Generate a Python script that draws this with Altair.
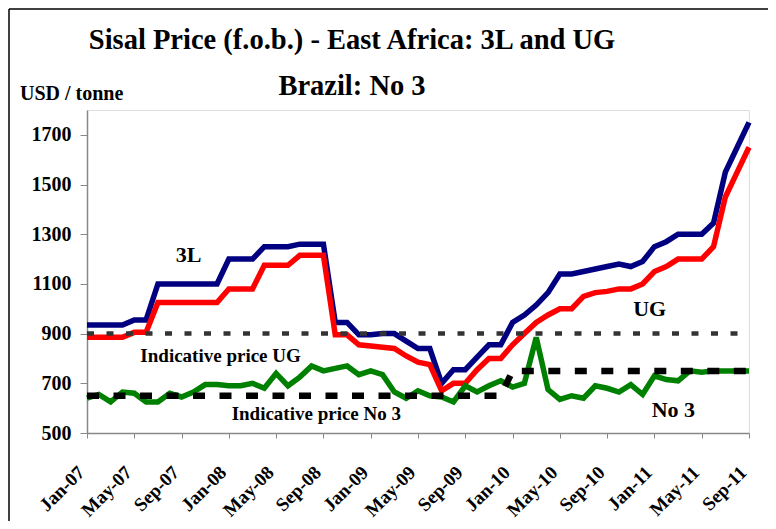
import json
import pandas as pd
import altair as alt

mon = ["Jan", "Feb", "Mar", "Apr", "May", "Jun", "Jul", "Aug", "Sep", "Oct", "Nov", "Dec"]
months = [f"{m}-{y:02d}" for y in range(7, 12) for m in mon][:57]  # Jan-07 .. Sep-11

blue_3l = [935, 935, 935, 935, 955, 955, 1100, 1100, 1100, 1100, 1100, 1100,
           1200, 1200, 1200, 1250, 1250, 1250, 1260, 1260, 1260,
           945, 945, 895, 895, 900, 900, 870, 840, 840, 700, 755, 755, 805, 855, 855,
           945, 975, 1015, 1065, 1140, 1140, 1150, 1160, 1170, 1180, 1170, 1190,
           1250, 1270, 1300, 1300, 1300, 1345, 1550, 1650, 1750]
red_ug = [885, 885, 885, 885, 905, 905, 1025, 1025, 1025, 1025, 1025, 1025,
          1080, 1080, 1080, 1175, 1175, 1175, 1215, 1215, 1215,
          895, 895, 855, 850, 845, 840, 810, 785, 775, 670, 700, 700, 755, 800, 800,
          855, 900, 945, 975, 1000, 1000, 1050, 1065, 1070, 1080, 1080, 1100,
          1150, 1170, 1200, 1200, 1200, 1250, 1450, 1550, 1650]
green_no3 = [640, 655, 625, 665, 660, 625, 625, 660, 645, 665,
             695, 695, 690, 690, 700, 680, 740, 690, 725, 770,
             750, 760, 770, 735, 750, 735, 665, 640, 670, 650,
             645, 625, 690, 665, 690, 710, 685, 700, 885, 675,
             635, 650, 640, 690, 680, 665, 695, 655, 730, 715,
             710, 750, 745, 750, 750, 750, 750]
ind_ug = [900] * 57
ind_no3 = [650] * 36 + [750] * 21

y_ticks = [500, 700, 900, 1100, 1300, 1500, 1700]

# annotation texts placed in data coordinates (month index, USD/tonne)
ann_text = ["3L", "UG", "No 3", "Indicative price UG", "Indicative price No 3"]
ann_x = [8.6, 47.6, 49.6, 11.3, 19.4]
ann_y = [1188, 971, 564, 786, 552]
ann_size = [22, 22, 22, 19, 19]

rows = []
for name, vals in [("3L", blue_3l), ("UG", red_ug), ("No 3", green_no3),
                   ("IndUG", ind_ug), ("IndNo3", ind_no3)]:
    for i, v in enumerate(vals):
        rows.append({"series": name, "idx": i, "month": months[i], "price": v})
df = pd.DataFrame(rows)
ann = pd.DataFrame({"text": ann_text, "x": ann_x, "y": ann_y, "size": ann_size})

FONT = "Liberation Serif"
label_expr = "datum.value % 4 == 0 ? " + json.dumps(months) + "[datum.value] : ''"

xs = alt.X("idx:Q", scale=alt.Scale(domain=[0, 56], nice=False, zero=False),
           axis=alt.Axis(values=list(range(57)), labelExpr=label_expr, labelAngle=315,
                         labelAlign="right", labelBaseline="middle", labelPadding=31,
                         labelOffset=-6, tickSize=5, labelOverlap=False, labelFontSize=19,
                         labelFont=FONT, labelFontWeight="bold", labelColor="black",
                         grid=False, title=None, domainWidth=1.5, labelBound=False))
ys = alt.Y("price:Q", scale=alt.Scale(domain=[500, 1800], nice=False, zero=False),
           axis=alt.Axis(values=y_ticks, format="d", tickSize=7, labelPadding=9,
                         labelFontSize=20, labelFont=FONT, labelFontWeight="bold",
                         labelColor="black", grid=False, title=None, domainWidth=1.5))

base = alt.Chart(df)

def line(series, color, width, dash=None):
    kw = dict(color=color, strokeWidth=width, strokeJoin="miter", strokeCap="butt")
    if dash:
        kw["strokeDash"] = dash
    return base.transform_filter(alt.datum.series == series).mark_line(**kw).encode(x=xs, y=ys)

l_blue = line("3L", "#000080", 5.5)
l_red = line("UG", "#FF0000", 5.5)
l_green = line("No 3", "#008000", 5.5)
l_iug = line("IndUG", "#333333", 4.5, [7, 12.5])
l_ino3 = line("IndNo3", "#000000", 6.5, [12, 14.5])

texts = alt.Chart(ann).mark_text(font=FONT, fontWeight="bold", color="black",
                                 align="center", baseline="alphabetic").encode(
    x=alt.X("x:Q"), y=alt.Y("y:Q"), text="text:N",
    size=alt.Size("size:Q", scale=None, legend=None))

titles = pd.DataFrame({"t": ["Sisal Price (f.o.b.) - East Africa: 3L and UG", "Brazil: No 3"]})
t1 = alt.Chart(titles.iloc[[0]]).mark_text(font=FONT, fontWeight="bold", fontSize=28.5,
                                           align="center", baseline="alphabetic").encode(
    text="t:N", x=alt.value(265), y=alt.value(-61))
t2 = alt.Chart(titles.iloc[[1]]).mark_text(font=FONT, fontWeight="bold", fontSize=28.5,
                                           align="center", baseline="alphabetic").encode(
    text="t:N", x=alt.value(265), y=alt.value(-15))
unit = alt.Chart(pd.DataFrame({"t": ["USD / tonne"]})).mark_text(
    font=FONT, fontWeight="bold", fontSize=20, align="left", baseline="alphabetic").encode(
    text="t:N", x=alt.value(-67), y=alt.value(-10))

one = pd.DataFrame({"a": [0]})
frame_top = alt.Chart(one).mark_rule(color="black", strokeWidth=1.5).encode(
    x=alt.value(-78), x2=alt.value(690), y=alt.value(-101))
frame_left = alt.Chart(one).mark_rule(color="black", strokeWidth=1.5).encode(
    x=alt.value(-78), y=alt.value(-101), y2=alt.value(420))

chart = alt.layer(frame_top, frame_left, l_blue, l_red, l_green, l_iug, l_ino3,
                  texts, t1, t2, unit).properties(
    width=662, height=323,
    autosize=alt.AutoSizeParams(type="none"),
    padding={"left": 79, "top": 102, "right": 19, "bottom": 88},
).configure_view(stroke="#808080", strokeWidth=2).configure_axis(
    labelFont=FONT, labelFontWeight="bold", labelColor="black",
    domainColor="black", tickColor="black", tickWidth=1.2,
).configure(background="white")

chart.save("out.html", embed_options={"renderer": "svg", "actions": False})
